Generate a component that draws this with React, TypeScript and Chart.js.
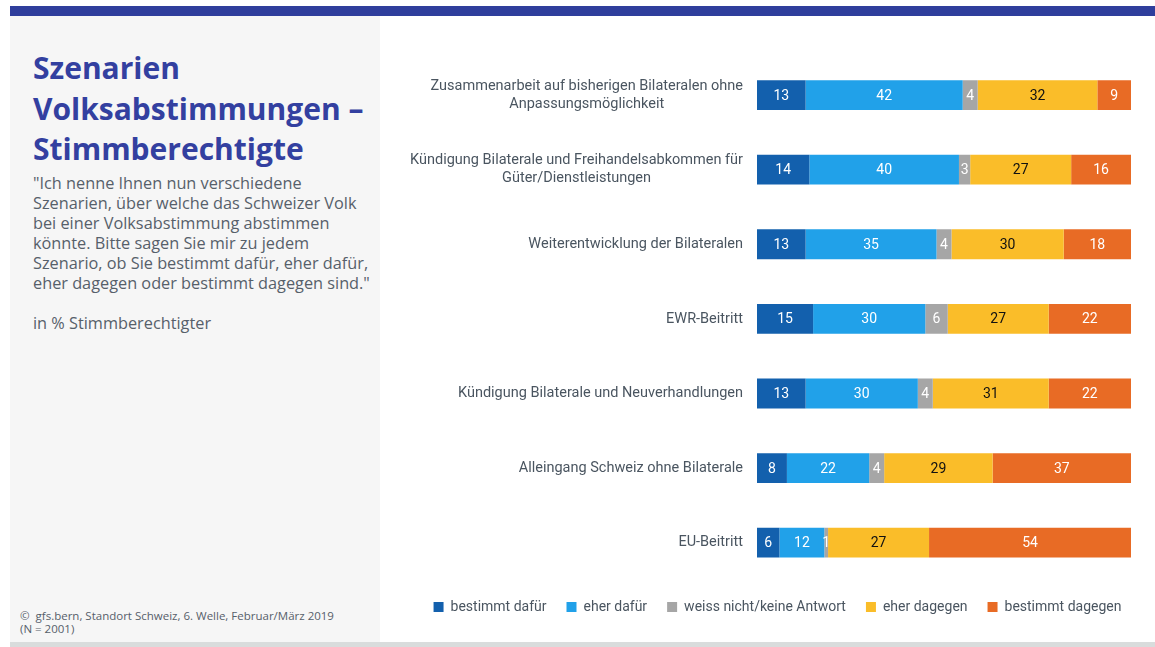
import React, { useEffect, useRef } from "react";
import { Chart, registerables } from "chart.js";

Chart.register(...registerables);

const categories: string[][] = [
  ["Zusammenarbeit auf bisherigen Bilateralen ohne", "Anpassungsmöglichkeit"],
  ["Kündigung Bilaterale und Freihandelsabkommen für", "Güter/Dienstleistungen"],
  ["Weiterentwicklung der Bilateralen"],
  ["EWR-Beitritt"],
  ["Kündigung Bilaterale und Neuverhandlungen"],
  ["Alleingang Schweiz ohne Bilaterale"],
  ["EU-Beitritt"],
];

const seriesNames = ["bestimmt dafür", "eher dafür", "weiss nicht/keine Antwort", "eher dagegen", "bestimmt dagegen"];
const bestimmtDafuer = [13, 14, 13, 15, 13, 8, 6];
const eherDafuer = [42, 40, 35, 30, 30, 22, 12];
const weissNicht = [4, 3, 4, 6, 4, 4, 1];
const eherDagegen = [32, 27, 30, 27, 31, 29, 27];
const bestimmtDagegen = [9, 16, 18, 22, 22, 37, 54];

const seriesColors = ["#1360ad", "#21a1e9", "#a6a6a6", "#fabd29", "#e86b25"];
const labelColors = ["#ffffff", "#ffffff", "#ffffff", "#111111", "#ffffff"];

const LABEL_FONT = "Roboto, 'Noto Sans', sans-serif";
const BODY_FONT = "'Open Sans', 'Noto Sans', sans-serif";

const valueLabelPlugin = {
  id: "valueLabels",
  afterDatasetsDraw(chart: any) {
    const ctx = chart.ctx;
    ctx.save();
    ctx.font = `14px ${LABEL_FONT}`;
    ctx.textAlign = "center";
    ctx.textBaseline = "middle";
    chart.data.datasets.forEach((ds: any, di: number) => {
      const meta = chart.getDatasetMeta(di);
      meta.data.forEach((bar: any, i: number) => {
        const v = ds.data[i];
        const cx = (bar.x + bar.base) / 2;
        ctx.fillStyle = labelColors[di];
        ctx.fillText(String(v), cx, bar.y + 1);
      });
    });
    ctx.restore();
  },
};

const categoryLabelPlugin = {
  id: "categoryLabels",
  afterDraw(chart: any) {
    const ctx = chart.ctx;
    const yScale = chart.scales.y;
    const right = chart.chartArea.left - 14;
    ctx.save();
    ctx.font = `14.5px ${LABEL_FONT}`;
    ctx.fillStyle = "#4a5560";
    ctx.textAlign = "center";
    ctx.textBaseline = "middle";
    const lh = 18;
    categories.forEach((lines, i) => {
      const y = yScale.getPixelForTick(i);
      const w = Math.max(...lines.map((l) => ctx.measureText(l).width));
      const cx = right - w / 2;
      const start = y - ((lines.length - 1) * lh) / 2;
      lines.forEach((l, k) => ctx.fillText(l, cx, start + k * lh));
    });
    ctx.restore();
  },
};

function BarChart() {
  const ref = useRef<HTMLCanvasElement>(null);
  useEffect(() => {
    const seriesData = [bestimmtDafuer, eherDafuer, weissNicht, eherDagegen, bestimmtDagegen];
    const chart = new Chart(ref.current!, {
      type: "bar",
      data: {
        labels: categories.map((c) => c.join(" ")),
        datasets: seriesNames.map((name, i) => ({
          label: name,
          data: seriesData[i],
          backgroundColor: seriesColors[i],
          borderWidth: 0,
          barPercentage: 0.8,
          categoryPercentage: 0.5,
        })),
      },
      options: {
        indexAxis: "y",
        animation: false,
        responsive: false,
        maintainAspectRatio: false,
        layout: { padding: { left: 0, right: 0, top: 17.75, bottom: 6 } },
        scales: {
          x: { stacked: true, display: false, min: 0, max: 100 },
          y: {
            stacked: true,
            display: true,
            grid: { display: false },
            border: { display: false },
            ticks: { display: false },
            afterFit(scale: any) {
              scale.width = 357;
            },
          },
          yRight: {
            type: "linear",
            position: "right",
            display: true,
            grid: { display: false },
            border: { display: false },
            ticks: { display: false },
            afterFit(scale: any) {
              scale.width = 24;
            },
          },
        },
        plugins: {
          tooltip: { enabled: false },
          legend: {
            position: "bottom",
            labels: {
              boxWidth: 10,
              boxHeight: 10,
              padding: 20,
              color: "#4a5560",
              font: { family: LABEL_FONT, size: 14 },
            },
          },
        },
      },
      plugins: [valueLabelPlugin, categoryLabelPlugin],
    } as any);
    return () => chart.destroy();
  }, []);
  return <canvas ref={ref} width={755} height={590} style={{ position: "absolute", left: 400, top: 40 }} />;
}

export default function App() {
  return (
    <div style={{ position: "fixed", left: 0, top: 0, width: 1155, height: 647, background: "#fff", overflow: "hidden" }}>
      <div style={{ position: "absolute", left: 10, top: 6, width: 1145, height: 10, background: "#2f3e9c" }} />
      <div style={{ position: "absolute", left: 10, top: 16, width: 370, height: 626, background: "#f6f6f6" }} />
      <div style={{ position: "absolute", left: 10, top: 642, width: 1145, height: 5, background: "#d9dcdc" }} />
      <div
        style={{
          position: "absolute",
          left: 33,
          top: 48,
          width: 345,
          fontFamily: BODY_FONT,
          fontWeight: 700,
          fontSize: 30,
          lineHeight: "40.5px",
          color: "#3340a0",
        }}
      >
        Szenarien
        <br />
        Volksabstimmungen –
        <br />
        Stimmberechtigte
      </div>
      <div
        style={{
          position: "absolute",
          left: 33,
          top: 173,
          width: 345,
          fontFamily: BODY_FONT,
          fontSize: 16.3,
          lineHeight: "20px",
          color: "#56606a",
        }}
      >
        "Ich nenne Ihnen nun verschiedene
        <br />
        Szenarien, über welche das Schweizer Volk
        <br />
        bei einer Volksabstimmung abstimmen
        <br />
        könnte. Bitte sagen Sie mir zu jedem
        <br />
        Szenario, ob Sie bestimmt dafür, eher dafür,
        <br />
        eher dagegen oder bestimmt dagegen sind."
        <br />
        <br />
        in % Stimmberechtigter
      </div>
      <div
        style={{
          position: "absolute",
          left: 20,
          top: 609,
          width: 360,
          fontFamily: BODY_FONT,
          fontSize: 11.5,
          lineHeight: "13px",
          color: "#56606a",
        }}
      >
        ©&nbsp; gfs.bern, Standort Schweiz, 6. Welle, Februar/März 2019
        <br />
        (N = 2001)
      </div>
      <BarChart />
    </div>
  );
}
